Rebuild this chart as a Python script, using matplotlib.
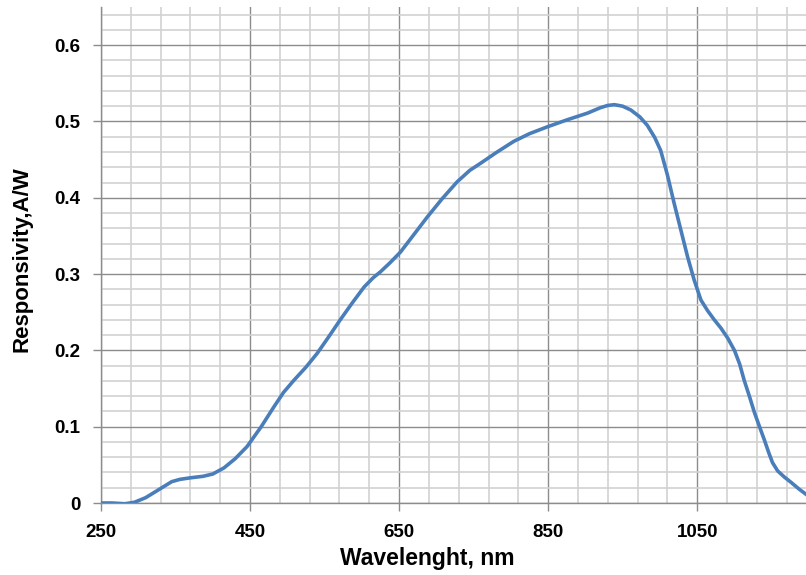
import matplotlib.pyplot as plt
from matplotlib.ticker import FixedLocator

# responsivity curve
wavelength = [250, 265, 282, 295, 310, 320, 335, 345, 356, 370, 387, 400, 415,
              430, 446, 465, 482, 495, 509, 525, 540, 555, 571, 587, 603, 615,
              625, 638, 652, 670, 688, 708, 728, 745, 759, 780, 804, 825, 849,
              875, 903, 920, 930, 939, 950, 961, 973, 983, 993, 1001, 1010,
              1019, 1028, 1037, 1046, 1055, 1064, 1073, 1082, 1091, 1100,
              1107, 1113, 1120, 1127, 1134, 1140, 1146, 1151, 1158, 1167,
              1176, 1187, 1198]
responsivity = [0.0, 0.0, -0.001, 0.001, 0.007, 0.013, 0.022, 0.028, 0.031,
                0.033, 0.035, 0.038, 0.046, 0.058, 0.074, 0.100, 0.126, 0.145,
                0.161, 0.178, 0.196, 0.217, 0.240, 0.262, 0.283, 0.295, 0.303,
                0.315, 0.329, 0.352, 0.375, 0.399, 0.421, 0.436, 0.445, 0.459,
                0.474, 0.484, 0.493, 0.502, 0.511, 0.518, 0.521, 0.522, 0.520,
                0.515, 0.506, 0.495, 0.479, 0.462, 0.430, 0.393, 0.358, 0.323,
                0.292, 0.266, 0.252, 0.240, 0.229, 0.216, 0.200, 0.182, 0.161,
                0.140, 0.118, 0.099, 0.083, 0.066, 0.053, 0.042, 0.034, 0.027,
                0.018, 0.010]

major_x = [250, 450, 650, 850, 1050]
minor_x = list(range(250, 1250, 40))
y_ticks = [0, 0.1, 0.2, 0.3, 0.4, 0.5, 0.6]
y_labels = ['0', '0.1', '0.2', '0.3', '0.4', '0.5', '0.6']


def main():
    plt.rcParams['font.family'] = ['Liberation Sans', 'DejaVu Sans']
    fig = plt.figure(figsize=(8.06, 5.75), dpi=100)
    ax = fig.add_axes([101 / 806, 1 - 503 / 575, 705 / 806, 496 / 575])

    ax.plot(wavelength, responsivity, color='#4a7ebb', lw=2.6,
            solid_capstyle='round', solid_joinstyle='round', zorder=3)

    ax.set_xlim(250, 1196)
    ax.set_ylim(0, 0.65)
    ax.set_xticks(major_x)
    ax.xaxis.set_minor_locator(FixedLocator(minor_x))
    ax.set_yticks(y_ticks)
    ax.set_yticklabels(y_labels)
    ax.yaxis.set_minor_locator(FixedLocator([i * 0.02 for i in range(33)]))

    ax.grid(which='minor', color='#d2d2d2', lw=1.2)
    ax.grid(which='major', color='#8c8c8c', lw=1.0)
    ax.set_axisbelow(True)

    for side in ['top', 'right']:
        ax.spines[side].set_visible(False)
    for side in ['left', 'bottom']:
        ax.spines[side].set_color('#8c8c8c')
        ax.spines[side].set_linewidth(1.0)

    ax.tick_params(which='major', length=6, width=1.0, color='#8c8c8c',
                   labelsize=13.5, pad=9)
    ax.tick_params(which='minor', length=0)
    for lab in ax.get_xticklabels() + ax.get_yticklabels():
        lab.set_fontweight('bold')

    fig.text(427 / 806, 1 - 558 / 575, 'Wavelenght, nm', ha='center',
             va='center', fontsize=16.5, fontweight='bold')
    fig.text(22 / 806, 1 - 259 / 575, 'Responsivity,A/W', ha='center',
             va='center', rotation=90, fontsize=16, fontweight='bold')

    fig.savefig('out.png', dpi=100)


if __name__ == '__main__':
    main()
